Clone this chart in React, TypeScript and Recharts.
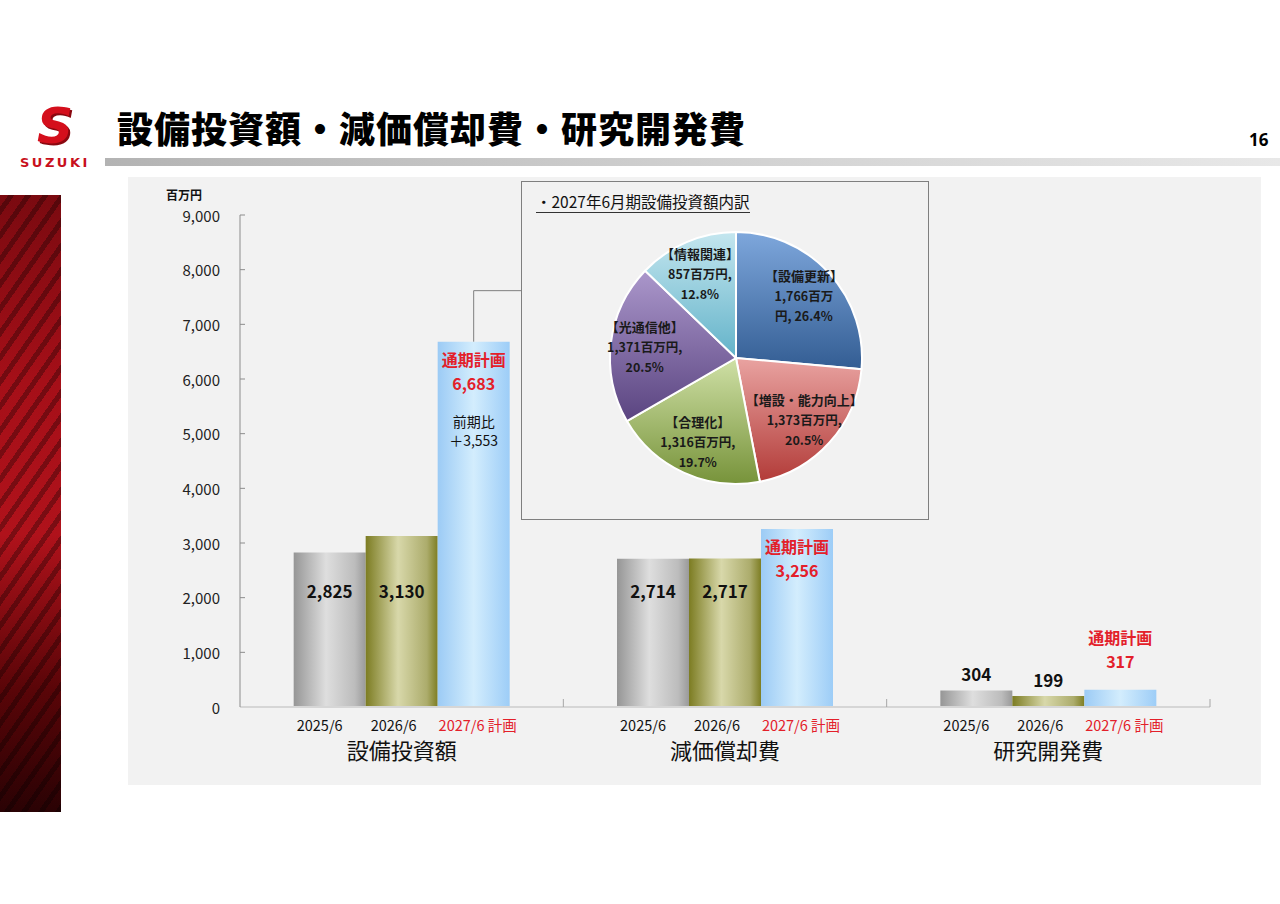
import { BarChart, Bar, XAxis, YAxis, LabelList, PieChart, Pie, Cell } from "recharts";

// bar chart data (百万円)
const categories = ["設備投資額", "減価償却費", "研究開発費"];
const fy2025 = [2825, 2714, 304];
const fy2026 = [3130, 2717, 199];
const fy2027Plan = [6683, 3256, 317];
const planNotes: (string[] | null)[] = [["前期比", "＋3,553"], null, null];
const periodLabels = ["2025/6", "2026/6", "2027/6 計画"];
const yTicks = [0, 1000, 2000, 3000, 4000, 5000, 6000, 7000, 8000, 9000];

// capex breakdown for 2027/6
const pieNames = ["【設備更新】", "【増設・能力向上】", "【合理化】", "【光通信他】", "【情報関連】"];
const pieValues = [1766, 1373, 1316, 1371, 857];

const RED = "#e3202a";
const FONT = "'Noto Sans CJK JP', 'Noto Sans', sans-serif";

const CHART_LEFT = 128;
const CHART_TOP = 177;
const CHART_W = 1133;
const CHART_H = 608;
const MARGIN = { top: 38, right: 51, left: 52, bottom: 18 };
const Y_AXIS_W = 60;
const BAND = (CHART_W - MARGIN.left - MARGIN.right - Y_AXIS_W) / categories.length;
const PERIOD_DX = [-82, -8, 76];

const INSET = { left: 521, top: 181, width: 408, height: 339 };

const fmt = (v: number) => v.toLocaleString("en-US");

const barData = categories.map((name, i) => ({
  name,
  fy2025: fy2025[i],
  fy2026: fy2026[i],
  plan: fy2027Plan[i],
}));

const pieTotal = pieValues.reduce((a, b) => a + b, 0);
const pieData = pieNames.map((name, i) => ({ name, value: pieValues[i] }));

const pieGradients = [
  ["#7ea7dc", "#335d93"],
  ["#e9a3a1", "#b23b38"],
  ["#cfe0a6", "#77933a"],
  ["#ab97cb", "#5a4480"],
  ["#c4e6ef", "#63b3c9"],
];

const renderActualLabel = (props: any) => {
  const { x, y, width, height, value } = props;
  const cx = Number(x) + Number(width) / 2;
  const ty = height > 100 ? Number(y) + Number(height) - 117 : Number(y) - 17;
  return (
    <text x={cx} y={ty} textAnchor="middle" dominantBaseline="central" fontSize={17} fontWeight={700} fill="#111" fontFamily={FONT}>
      {fmt(value)}
    </text>
  );
};

const renderPlanLabel = (props: any) => {
  const { x, y, width, height, value, index } = props;
  const cx = Number(x) + Number(width) / 2;
  const inside = height > 100;
  const top = inside ? Number(y) + 17 : Number(y) - 53;
  const note = planNotes[index];
  const boxX = INSET.left - CHART_LEFT;
  return (
    <g fontFamily={FONT}>
      {index === 0 && (
        <polyline
          points={`${cx},${y} ${cx},${Number(y) - 51} ${boxX},${Number(y) - 51}`}
          fill="none"
          stroke="#7f7f7f"
          strokeWidth={1}
        />
      )}
      <text x={cx} y={top} textAnchor="middle" dominantBaseline="central" fontSize={16} fontWeight={700} fill={RED}>
        通期計画
      </text>
      <text x={cx} y={top + 24} textAnchor="middle" dominantBaseline="central" fontSize={16} fontWeight={700} fill={RED}>
        {fmt(value)}
      </text>
      {note &&
        note.map((line, i) => (
          <text key={i} x={cx} y={top + 62 + i * 19} textAnchor="middle" dominantBaseline="central" fontSize={14} fill="#111">
            {line}
          </text>
        ))}
    </g>
  );
};

const renderXTick = (props: any) => {
  const { x, y, payload } = props;
  return (
    <g fontFamily={FONT}>
      {periodLabels.map((p, i) => (
        <text key={p} x={x + PERIOD_DX[i]} y={y + 17} textAnchor="middle" dominantBaseline="central" fontSize={14.5} fill={i === 2 ? RED : "#111"}>
          {p}
        </text>
      ))}
      <text x={x} y={y + 42} textAnchor="middle" dominantBaseline="central" fontSize={22} fill="#111">
        {payload.value}
      </text>
      <line x1={x + BAND / 2} x2={x + BAND / 2} y1={y - 8} y2={y} stroke="#a6a6a6" />
    </g>
  );
};

const renderYTick = (props: any) => {
  const { x, y, payload } = props;
  return (
    <g>
      <text x={x} y={y} textAnchor="end" dominantBaseline="central" fontSize={15} fill="#222" fontFamily={FONT}>
        {fmt(payload.value)}
      </text>
      {payload.value > 0 && <line x1={x + 20} x2={x + 25} y1={y} y2={y} stroke="#8c8c8c" />}
    </g>
  );
};

const RAD = Math.PI / 180;
const renderPieLabel = (props: any) => {
  const { cx, cy, midAngle, outerRadius, index, value } = props;
  const r = outerRadius * 0.73;
  const lx = cx + r * Math.cos(-midAngle * RAD);
  const ly = cy + r * Math.sin(-midAngle * RAD);
  const pct = ((value / pieTotal) * 100).toFixed(1);
  const lines =
    index === 0
      ? [pieNames[index], `${fmt(value)}百万`, `円, ${pct}%`]
      : [pieNames[index], `${fmt(value)}百万円,`, `${pct}%`];
  return (
    <g fontFamily={FONT} fontWeight={700} fill="#1a1a1a">
      {lines.map((line, i) => (
        <text key={i} x={lx} y={ly + (i - 1) * 20} textAnchor="middle" dominantBaseline="central" fontSize={i === 0 ? 13 : 12.5}>
          {line}
        </text>
      ))}
    </g>
  );
};

export default function App() {
  return (
    <div
      style={{
        position: "absolute",
        left: 0,
        top: 0,
        width: 1280,
        height: 904,
        background: "#ffffff",
        overflow: "hidden",
        fontFamily: FONT,
      }}
    >
      {/* logo */}
      <div
        style={{
          position: "absolute",
          left: 30,
          top: 100,
          width: 50,
          height: 52,
          textAlign: "center",
          fontSize: 50,
          fontWeight: 900,
          fontStyle: "italic",
          color: "#d40f1c",
          fontFamily: "'DejaVu Sans', sans-serif",
          lineHeight: "52px",
          textShadow: "2px 2px 0 #8a0810",
        }}
      >
        S
      </div>
      <div
        style={{
          position: "absolute",
          left: 20,
          top: 155,
          fontSize: 13,
          lineHeight: "16px",
          fontWeight: 700,
          letterSpacing: 2.5,
          color: "#c8101c",
          fontFamily: "'DejaVu Sans', sans-serif",
        }}
      >
        SUZUKI
      </div>

      {/* title */}
      <div
        style={{
          position: "absolute",
          left: 117,
          top: 104,
          fontSize: 36,
          fontWeight: 900,
          color: "#000",
          lineHeight: "46px",
          letterSpacing: 1,
          whiteSpace: "nowrap",
        }}
      >
        設備投資額・減価償却費・研究開発費
      </div>
      <div
        style={{
          position: "absolute",
          left: 1249,
          top: 128,
          width: 40,
          fontSize: 17,
          fontWeight: 700,
          color: "#000",
          fontFamily: "'Open Sans', sans-serif",
        }}
      >
        16
      </div>
      <div
        style={{
          position: "absolute",
          left: 105,
          top: 158,
          width: 1175,
          height: 8,
          background: "linear-gradient(90deg, #b3b3b3 0%, #d0d0d0 50%, #e8e8e8 100%)",
        }}
      />

      {/* decorative strip */}
      <div
        style={{
          position: "absolute",
          left: 0,
          top: 195,
          width: 61,
          height: 617,
          background:
            "repeating-linear-gradient(-55deg, rgba(0,0,0,0.3) 0 5px, rgba(0,0,0,0) 5px 14px), linear-gradient(180deg, #7a0a10 0%, #a50f18 30%, #b0121b 55%, #5a0508 80%, #2a0204 100%)",
        }}
      />

      {/* panel */}
      <div
        style={{
          position: "absolute",
          left: CHART_LEFT,
          top: CHART_TOP,
          width: CHART_W,
          height: CHART_H,
          background: "#f2f2f2",
        }}
      />
      <div
        style={{
          position: "absolute",
          left: 166,
          top: 186,
          fontSize: 12,
          fontWeight: 700,
          color: "#111",
        }}
      >
        百万円
      </div>

      <div style={{ position: "absolute", left: CHART_LEFT, top: CHART_TOP }}>
        <BarChart
          width={CHART_W}
          height={CHART_H}
          data={barData}
          margin={MARGIN}
          barCategoryGap="16.6%"
          barGap={0}
        >
          <defs>
            <linearGradient id="gr25" x1="0" y1="0" x2="1" y2="0">
              <stop offset="0%" stopColor="#969696" />
              <stop offset="45%" stopColor="#dedede" />
              <stop offset="85%" stopColor="#bcbcbc" />
              <stop offset="100%" stopColor="#9a9a9a" />
            </linearGradient>
            <linearGradient id="gr26" x1="0" y1="0" x2="1" y2="0">
              <stop offset="0%" stopColor="#7c7c22" />
              <stop offset="45%" stopColor="#d8d8aa" />
              <stop offset="85%" stopColor="#acac6c" />
              <stop offset="100%" stopColor="#7e7e24" />
            </linearGradient>
            <linearGradient id="gr27" x1="0" y1="0" x2="1" y2="0">
              <stop offset="0%" stopColor="#9ccbf5" />
              <stop offset="50%" stopColor="#d3edfd" />
              <stop offset="100%" stopColor="#9dcdf7" />
            </linearGradient>
          </defs>
          <XAxis
            dataKey="name"
            height={60}
            tickSize={0}
            tickMargin={0}
            tickLine={false}
            axisLine={{ stroke: "#d6d6d6", strokeWidth: 2 }}
            tick={renderXTick}
            interval={0}
          />
          <YAxis
            width={Y_AXIS_W}
            domain={[0, 9000]}
            ticks={yTicks}
            tickSize={0}
            tickMargin={20}
            tickLine={false}
            axisLine={{ stroke: "#8c8c8c" }}
            tick={renderYTick}
          />
          <Bar dataKey="fy2025" fill="url(#gr25)" isAnimationActive={false}>
            <LabelList dataKey="fy2025" content={renderActualLabel} />
          </Bar>
          <Bar dataKey="fy2026" fill="url(#gr26)" isAnimationActive={false}>
            <LabelList dataKey="fy2026" content={renderActualLabel} />
          </Bar>
          <Bar dataKey="plan" fill="url(#gr27)" isAnimationActive={false}>
            <LabelList dataKey="plan" content={renderPlanLabel} />
          </Bar>
        </BarChart>
      </div>

      {/* breakdown inset */}
      <div
        style={{
          position: "absolute",
          left: INSET.left,
          top: INSET.top,
          width: INSET.width,
          height: INSET.height,
          boxSizing: "border-box",
          border: "1.5px solid #7f7f7f",
          background: "#f2f2f2",
        }}
      >
        <div
          style={{
            position: "absolute",
            left: 14,
            top: 9,
            fontSize: 15.5,
            color: "#111",
            borderBottom: "1px solid #333",
            lineHeight: "21px",
            whiteSpace: "nowrap",
          }}
        >
          ・2027年6月期設備投資額内訳
        </div>
        <div style={{ position: "absolute", left: -1.5, top: -1.5 }}>
          <PieChart width={INSET.width} height={INSET.height} margin={{ top: 0, right: 0, bottom: 0, left: 0 }}>
            <defs>
              {pieGradients.map((g, i) => (
                <linearGradient key={i} id={`pg${i}`} x1="0" y1="0" x2="0" y2="1">
                  <stop offset="0%" stopColor={g[0]} />
                  <stop offset="100%" stopColor={g[1]} />
                </linearGradient>
              ))}
            </defs>
            <Pie
              data={pieData}
              dataKey="value"
              nameKey="name"
              cx={215}
              cy={177}
              outerRadius={126}
              startAngle={90}
              endAngle={-270}
              stroke="#ffffff"
              strokeWidth={2}
              label={renderPieLabel}
              labelLine={false}
              isAnimationActive={false}
            >
              {pieData.map((d, i) => (
                <Cell key={d.name} fill={`url(#pg${i})`} />
              ))}
            </Pie>
          </PieChart>
        </div>
      </div>
    </div>
  );
}
